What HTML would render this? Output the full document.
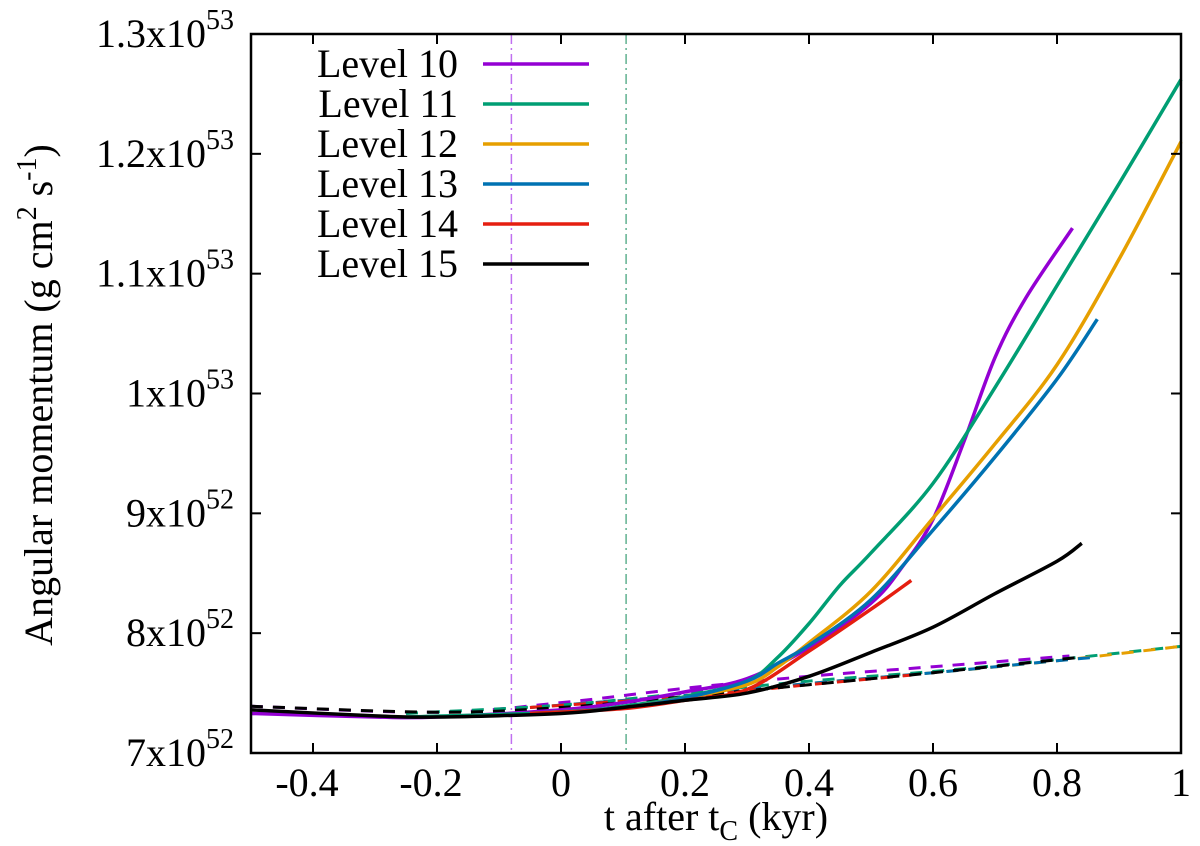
<!DOCTYPE html>
<html><head><meta charset="utf-8">
<style>
html,body{margin:0;padding:0;background:#fff;}
svg, svg text, svg tspan{font-family:"Liberation Serif","Times New Roman","DejaVu Serif","Noto Serif CJK SC",serif;}
</style></head>
<body>
<svg id="chart" width="1200" height="841" viewBox="0 0 1200 841" xmlns="http://www.w3.org/2000/svg">
<g id="vlines"></g>
<g id="series"></g>
<rect x="251" y="34" width="930" height="719" fill="none" stroke="#000" stroke-width="2.5"/>
<g id="xticks" font-size="40" text-anchor="middle"></g>
<g id="yticks" font-size="40"></g>
<text font-size="40" text-anchor="middle" transform="translate(52,395) rotate(-90)">Angular momentum (g cm<tspan font-size="28" dy="-16">2</tspan><tspan dy="16"> s</tspan><tspan font-size="28" dy="-16">-1</tspan><tspan dy="16">)</tspan></text>
<text font-size="40" text-anchor="middle" x="716" y="830">t after t<tspan font-size="28" dy="10">C</tspan><tspan dy="-10"> (kyr)</tspan></text>
<g id="legend" font-size="40" text-anchor="end"></g>
</svg>
<script>
const xTickVals = [-0.4,-0.2,0,0.2,0.4,0.6,0.8,1];
const xTickLabels = ["-0.4","-0.2","0","0.2","0.4","0.6","0.8","1"];
const yTickVals = [7,8,9,10,11,12,13];
const yTickBase = ["7x10","8x10","9x10","1x10","1.1x10","1.2x10","1.3x10"];
const yTickExp = ["52","52","52","53","53","53","53"];
const seriesNames = ["Level 10","Level 11","Level 12","Level 13","Level 14","Level 15"];
const seriesColors = ["#9400d3","#009e73","#e69f00","#0072b2","#e51e10","#000000"];
const refLineX = [-0.08, 0.105];
const refLineColors = ["#c070f0","#60b090"];

const l10x = [-0.5,-0.3,-0.2,0,0.1,0.2,0.3,0.4,0.5,0.55,0.6,0.65,0.7,0.75,0.825];
const l10y = [7.33,7.30,7.30,7.36,7.42,7.51,7.62,7.88,8.25,8.55,8.95,9.6,10.3,10.8,11.38];
const l11x = [-0.25,0,0.1,0.2,0.3,0.35,0.4,0.45,0.5,0.6,0.7,0.8,0.9,1.0];
const l11y = [7.30,7.34,7.39,7.47,7.6,7.8,8.08,8.4,8.67,9.25,10.05,10.9,11.75,12.62];
const l12x = [-0.05,0.1,0.2,0.3,0.35,0.4,0.5,0.6,0.7,0.8,0.9,1.0];
const l12y = [7.33,7.38,7.46,7.57,7.72,7.92,8.35,8.96,9.58,10.24,11.12,12.1];
const l13x = [-0.05,0.1,0.2,0.3,0.35,0.4,0.5,0.6,0.7,0.8,0.865];
const l13y = [7.33,7.38,7.46,7.6,7.75,7.9,8.28,8.86,9.47,10.12,10.62];
const l14x = [-0.05,0.1,0.2,0.3,0.4,0.5,0.565];
const l14y = [7.33,7.37,7.44,7.53,7.85,8.2,8.44];
const l15x = [-0.5,-0.3,-0.2,0,0.1,0.2,0.3,0.4,0.5,0.6,0.7,0.8,0.84];
const l15y = [7.36,7.31,7.30,7.33,7.38,7.44,7.5,7.64,7.84,8.05,8.33,8.6,8.75];
const d10x = [-0.5,-0.2,0,0.2,0.4,0.6,0.82];
const d10y = [7.39,7.34,7.42,7.54,7.64,7.72,7.81];
const d11x = [-0.25,0,0.2,0.4,0.6,0.8,1.0];
const d11y = [7.33,7.4,7.5,7.6,7.68,7.78,7.89];
const d12x = [-0.05,0.2,0.4,0.6,0.8,1.0];
const d12y = [7.38,7.48,7.58,7.67,7.77,7.89];
const d13x = [-0.05,0.2,0.4,0.6,0.8,0.865];
const d13y = [7.38,7.48,7.58,7.67,7.77,7.8];
const d14x = [-0.05,0.2,0.4,0.565];
const d14y = [7.38,7.47,7.57,7.65];
const d15x = [-0.5,-0.2,0,0.2,0.4,0.6,0.84];
const d15y = [7.39,7.34,7.38,7.47,7.57,7.67,7.8];

const solidX=[l10x,l11x,l12x,l13x,l14x,l15x], solidY=[l10y,l11y,l12y,l13y,l14y,l15y];
const dashX=[d10x,d11x,d12x,d13x,d14x,d15x], dashY=[d10y,d11y,d12y,d13y,d14y,d15y];

const NS="http://www.w3.org/2000/svg";
const X0=251,X1=1181,Y0=753,Y1=34;
const sx=v=>X0+(v+0.5)/1.5*(X1-X0);
const sy=v=>Y0-(v-7)/6*(Y0-Y1);
function mk(tag,parent,attrs){const e=document.createElementNS(NS,tag);for(const k in attrs)e.setAttribute(k,attrs[k]);parent.appendChild(e);return e;}
function pathD(xs,ys){
  const p=xs.map((x,i)=>[sx(x),sy(ys[i])]);
  let d="M"+p[0][0]+","+p[0][1];
  for(let i=0;i<p.length-1;i++){
    const a=p[Math.max(0,i-1)],b=p[i],c=p[i+1],e=p[Math.min(p.length-1,i+2)];
    const c1=[b[0]+(c[0]-a[0])/6,b[1]+(c[1]-a[1])/6],c2=[c[0]-(e[0]-b[0])/6,c[1]-(e[1]-b[1])/6];
    d+=" C"+c1[0]+","+c1[1]+" "+c2[0]+","+c2[1]+" "+c[0]+","+c[1];
  }
  return d;
}
const vl=document.getElementById('vlines');
refLineX.forEach((v,i)=>{
  const l=mk('line',vl,{x1:sx(v),x2:sx(v),y1:Y1,y2:Y0,stroke:refLineColors[i],'stroke-width':1.5,'stroke-dasharray':'10,4,2,4'});
  
  
});
const sg=document.getElementById('series');
dashX.forEach((xs,i)=>{
  const p=mk('path',sg,{d:pathD(xs,dashY[i]),fill:'none',stroke:seriesColors[i],'stroke-width':3,'stroke-dasharray':'12,10'});
  
  
});
solidX.forEach((xs,i)=>{
  const p=mk('path',sg,{d:pathD(xs,solidY[i]),fill:'none',stroke:seriesColors[i],'stroke-width':3.5});
  
  
});
const xt=document.getElementById('xticks');
xTickVals.forEach((v,i)=>{
  const x=sx(v);
  const t1=mk('line',xt,{x1:x,x2:x,y1:Y0,y2:Y0-10,stroke:'#000','stroke-width':2});
  
  
  if(v<1){const t2=mk('line',xt,{x1:x,x2:x,y1:Y1,y2:Y1+10,stroke:'#000','stroke-width':2});
  
  }
  const t=mk('text',xt,{x:x-(v<0?6:0),y:796});
  t.textContent=xTickLabels[i];
  
  
});
const yt=document.getElementById('yticks');
yTickVals.forEach((v,i)=>{
  const y=sy(v);
  if(v>7&&v<13){
  const a=mk('line',yt,{x1:X0,x2:X0+10,y1:y,y2:y,stroke:'#000','stroke-width':2});
  
  
  const b=mk('line',yt,{x1:X1,x2:X1-10,y1:y,y2:y,stroke:'#000','stroke-width':2});
  
  }
  const t=mk('text',yt,{x:234,y:y+13,'text-anchor':'end'});
  
  
  const s1=mk('tspan',t,{});s1.textContent=yTickBase[i];
  const s2=mk('tspan',t,{'font-size':28,dy:-18});s2.textContent=yTickExp[i];
});
const lg=document.getElementById('legend');
seriesNames.forEach((n,i)=>{
  const y=64+i*40;
  const t=mk('text',lg,{x:458,y:y+13});
  t.textContent=n;
  
  
  const l=mk('line',lg,{x1:483,x2:589,y1:y,y2:y,stroke:seriesColors[i],'stroke-width':3.5});
  
  
});
</script>
</body></html>
